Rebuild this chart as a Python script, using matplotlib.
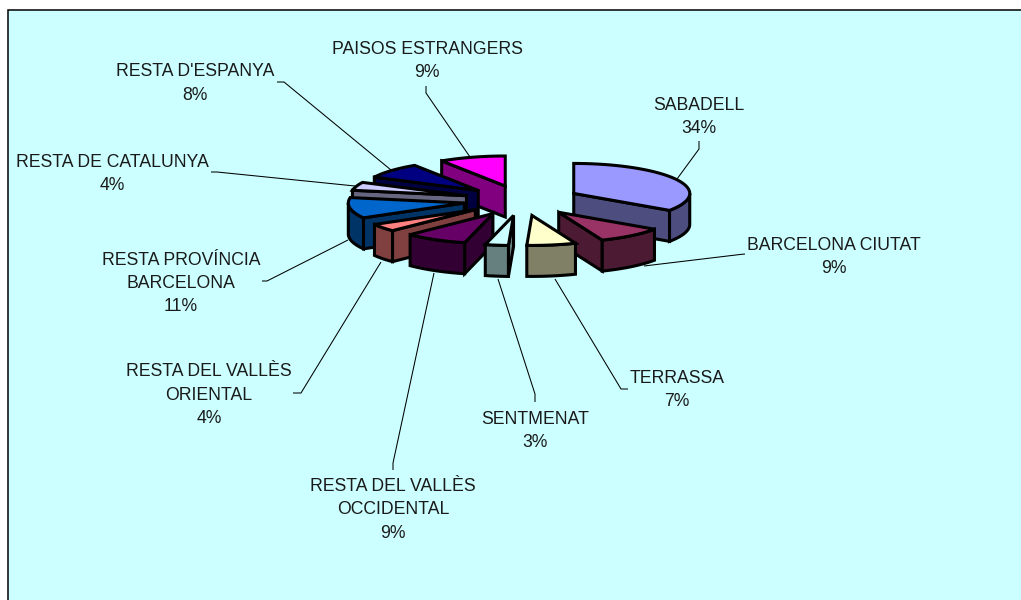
import numpy as np
import matplotlib
matplotlib.use("Agg")
import matplotlib.pyplot as plt
from matplotlib.patches import Polygon, Rectangle

plt.rcParams['font.family'] = ['Liberation Sans', 'DejaVu Sans']

# ---- data ----
categories = ["SABADELL", "BARCELONA CIUTAT", "TERRASSA", "SENTMENAT",
              "RESTA DEL VALLÈS\nOCCIDENTAL", "RESTA DEL VALLÈS\nORIENTAL",
              "RESTA PROVÍNCIA\nBARCELONA", "RESTA DE CATALUNYA",
              "RESTA D'ESPANYA", "PAISOS ESTRANGERS"]
values = [34.4, 9.3, 6.8, 3.2, 8.7, 4.1, 11.1, 4.4, 8.4, 9.2]
percent_labels = ["34%", "9%", "7%", "3%", "9%", "4%", "11%", "4%", "8%", "9%"]

# ---- style ----
top_colors = ["#9999FF", "#993366", "#FFFFCC", "#CCFFFF", "#660066",
              "#FF8080", "#0066CC", "#CCCCFF", "#000080", "#FF00FF"]
side_colors = ["#4D4D80", "#4D1A33", "#808066", "#668080", "#330033",
               "#804040", "#003366", "#666680", "#000040", "#800080"]
draw_order = [9, 8, 7, 6, 5, 4, 0, 1, 2, 3]

# ---- layout (pixels) ----
W, H = 1021, 600
CX, CY = 522.0, 200.5
RX, RY = 116.0, 30.0
EXPLODE = 58.5
DEPTH = 31.0
EDGE_LW = 2.2
label_centers = [(699, 117), (834, 257), (677, 390), (535, 431), (393, 510),
                 (209, 395), (181, 283.5), (112, 174), (195, 83.5), (427, 61)]
leaders = [
    [(699, 141), (699, 149), (677, 179)],
    [(745, 254), (740, 254.5), (644, 266)],
    [(628, 389), (621, 389), (555, 279)],
    [(535, 402), (535, 394), (498, 279)],
    [(393, 470), (393, 463), (434, 273)],
    [(293, 393), (301, 393), (381, 262)],
    [(262, 281), (267, 281), (348, 240)],
    [(211, 172), (217, 172), (355, 186)],
    [(277, 82), (284, 82), (391, 170)],
    [(426, 86), (426, 93), (470, 157)],
]

fig = plt.figure(figsize=(W / 100, H / 100), dpi=100, facecolor="white")
ax = fig.add_axes([0, 0, 1, 1])
ax.set_xlim(0, W)
ax.set_ylim(H, 0)
ax.axis("off")

ax.add_patch(Rectangle((7.5, 10), W + 20, H + 20, facecolor="#CCFFFF",
                       edgecolor="black", linewidth=1.1, zorder=0))

fractions = np.array(values) / np.sum(values)
edges = np.concatenate([[0], np.cumsum(fractions)]) * 2 * np.pi


def project(theta, ax0, ay0, drop=0.0):
    return np.column_stack([ax0 + RX * np.sin(theta), ay0 - RY * np.cos(theta) + drop])


def face(points, color, z):
    ax.add_patch(Polygon(points, closed=True, facecolor=color, edgecolor="black",
                         linewidth=EDGE_LW, joinstyle="miter", zorder=z))


for p in leaders:
    xs, ys = zip(*p)
    ax.plot(xs, ys, color="black", lw=0.75, zorder=1, solid_capstyle="butt")

z = 2.0
for i in draw_order:
    t0, t1 = edges[i], edges[i + 1]
    mid = (t0 + t1) / 2
    ax0 = CX + EXPLODE * np.sin(mid)
    ay0 = CY - EXPLODE * (RY / RX) * np.cos(mid)
    apex = np.array([ax0, ay0])
    down = np.array([0, DEPTH])
    rim0 = project(np.array([t0]), ax0, ay0)[0]
    rim1 = project(np.array([t1]), ax0, ay0)[0]
    # radial faces that look toward the viewer
    if np.sin(t0) < -1e-6:
        face([apex, rim0, rim0 + down, apex + down], side_colors[i], z); z += 0.01
    if np.sin(t1) > 1e-6:
        face([apex, rim1, rim1 + down, apex + down], side_colors[i], z); z += 0.01
    # outer wall: the part of the arc on the front half
    a0, a1 = max(t0, np.pi / 2), min(t1, 3 * np.pi / 2)
    if a1 > a0:
        th = np.linspace(a0, a1, 60)
        upper = project(th, ax0, ay0)
        lower = project(th[::-1], ax0, ay0, DEPTH)
        face(np.vstack([upper, lower]), side_colors[i], z); z += 0.01
    # top
    th = np.linspace(t0, t1, 80)
    face(np.vstack([apex, project(th, ax0, ay0)]), top_colors[i], z); z += 0.01

for name, pct, (x, y) in zip(categories, percent_labels, label_centers):
    ax.text(x, y, name + "\n" + pct, ha="center", va="center", ma="center",
            fontsize=12.7, color="#1a1a1a", linespacing=1.47, zorder=50)

fig.savefig("out.png", dpi=100, facecolor="white")
